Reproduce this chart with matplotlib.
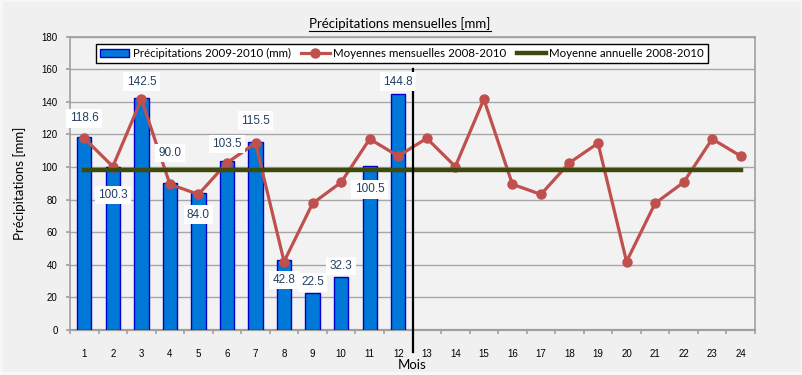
import numpy as np
import matplotlib.pyplot as plt
from matplotlib.lines import Line2D
from matplotlib.patches import Rectangle

# data
months = np.arange(1, 25)
precip_months = np.arange(1, 13)
precip = [118.6, 100.3, 142.5, 90.0, 84.0, 103.5, 115.5, 42.8, 22.5, 32.3, 100.5, 144.8]
monthly_mean = [117.6, 100.3, 141.6, 89.4, 83.2, 102.6, 114.6, 42.0, 77.7, 90.6, 117.2, 106.7] * 2
annual_mean = 98.4

# where each bar label sits (data units)
label_y = [130, 82.8, 152.3, 108.6, 70.6, 114.1, 128.4, 30.7, 29.3, 39.3, 86.3, 152.3]

plt.rcParams['font.family'] = ['Liberation Sans', 'DejaVu Sans']

fig = plt.figure(figsize=(8.03, 3.75), dpi=100)
fig.patch.set_facecolor('#f7f7f7')
fig.add_artist(Rectangle((0.004, 0.008), 0.993, 0.988, transform=fig.transFigure,
                         facecolor='#f0f0f0', edgecolor='none', zorder=-10))
ax = fig.add_axes([0.0872, 0.12, 0.8530, 0.7824])
ax.set_facecolor('#f2f2f2')

bars = ax.bar(precip_months, precip, width=0.5, color='#0078d7', edgecolor='#0000cc',
              linewidth=1.0, zorder=3, label='Précipitations 2009-2010 (mm)')
l1, = ax.plot(months, monthly_mean, color='#c0504d', lw=2.3, marker='o', markersize=6.5,
              zorder=4, label='Moyennes mensuelles 2008-2010')
l2, = ax.plot([months[0], months[-1]], [annual_mean, annual_mean], color='#3c4a0e', lw=3.2,
              zorder=5, label='Moyenne annuelle 2008-2010')

# separator between the two years
ax.plot([12.5, 12.5], [-13.5, 160], color='black', lw=1.6, zorder=6, clip_on=False)

for m, v, ly in zip(precip_months, precip, label_y):
    ax.text(m, ly, f'{v:.1f}', ha='center', va='center', fontsize=8.5, color='#243f60',
            zorder=7, bbox=dict(facecolor='white', edgecolor='none', pad=2.5))

ax.set_xlim(0.5, 24.5)
ax.set_ylim(0, 180)
ax.set_yticks(np.arange(0, 181, 20))
ax.set_xticks(months)
ax.set_xticks(np.arange(0.5, 25, 1), minor=True)
ax.tick_params(axis='x', which='major', length=0, pad=14, labelsize=7)
ax.tick_params(axis='x', which='minor', length=3, color='#a0a0a0', width=1.2)
ax.tick_params(axis='y', length=3, color='#a0a0a0', width=1.2, pad=6, labelsize=7)
ax.grid(axis='y', color='#a6a6a6', lw=1.0, zorder=0)
ax.set_axisbelow(True)
for s in ax.spines.values():
    s.set_color('#a0a0a0')
    s.set_linewidth(1.2)
ax.spines['bottom'].set_linewidth(1.6)

ax.set_ylabel('Précipitations [mm]', family=['Lato', 'DejaVu Sans'], fontsize=9.5)
ax.yaxis.set_label_coords(-0.064, 0.5)
ax.set_xlabel('Mois', family=['Lato', 'DejaVu Sans'], fontsize=9.5)
ax.xaxis.set_label_coords(0.5, -0.10)

leg = ax.legend([bars, l1, l2], [bars.get_label(), l1.get_label(), l2.get_label()],
                loc='center', bbox_to_anchor=(0.485, 0.942), ncol=3,
                frameon=True, fancybox=False, framealpha=1, edgecolor='black',
                handlelength=2.5, columnspacing=0.9, handletextpad=0.3,
                borderpad=0.35, prop={'family': ['Lato', 'DejaVu Sans'], 'size': 8.3})
leg.get_frame().set_linewidth(1.0)
leg.set_zorder(10)

title = fig.text(0.498, 0.938, 'Précipitations mensuelles [mm]', ha='center', va='center',
                 fontsize=9.5, family=['Lato', 'DejaVu Sans'])
fig.canvas.draw()
bb = title.get_window_extent().transformed(fig.transFigure.inverted())
fig.add_artist(Line2D([bb.x0, bb.x1], [bb.y0 - 0.004, bb.y0 - 0.004], color='black', lw=0.8))

fig.savefig('out.png', dpi=100, facecolor=fig.get_facecolor())
